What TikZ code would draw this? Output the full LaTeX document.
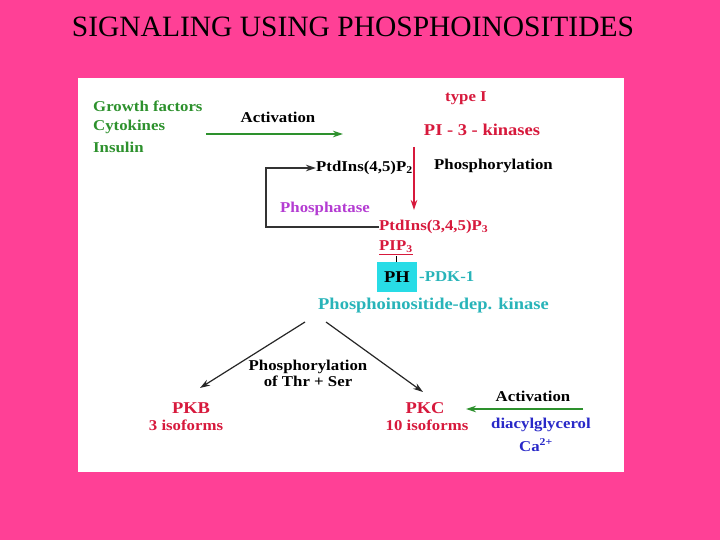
\documentclass[tikz,border=0pt]{standalone}
\usepackage{fontspec}
\setmainfont{Liberation Serif}[FakeStretch=1.12]
\newfontfamily\titlefont{Liberation Serif}
\usetikzlibrary{arrows.meta}
\definecolor{bgpink}{RGB}{255,64,150}
\definecolor{gr}{RGB}{45,145,45}
\definecolor{rd}{RGB}{215,25,60}
\definecolor{pu}{RGB}{180,60,210}
\definecolor{tl}{RGB}{40,180,185}
\definecolor{cy}{RGB}{40,220,230}
\definecolor{bl}{RGB}{40,40,200}
\tikzset{
 t/.style={font=\bfseries\fontsize{15}{16}\selectfont, inner sep=0pt},
 tb/.style={font=\bfseries\fontsize{16.5}{17}\selectfont, inner sep=0pt},
 tl/.style={t, anchor=west},
 arr/.style={-{Stealth[length=10pt,width=6.5pt]}, line width=1.2pt}
}
\begin{document}
\begin{tikzpicture}[x=1pt,y=-1pt]
\useasboundingbox (0,0) rectangle (720,540);
\fill[bgpink] (0,0) rectangle (720,540);
\fill[white] (78,78) rectangle (624,472);
\node[inner sep=0pt, font=\titlefont\fontsize{29.5}{30}\selectfont] (title) at (353,27) {SIGNALING USING PHOSPHOINOSITIDES};
\node[tl, gr] (g1) at (93,106) {Growth factors};
\node[tl, gr] (g2) at (93,127) {Cytokines};
\node[tl, gr] (g3) at (93,147) {Insulin};
\node[t] (act1) at (278,117) {Activation};
\coordinate (a1s) at (206,134); \coordinate (a1e) at (343,134);
\draw[arr, gr] (a1s) -- (a1e);
\node[t, rd] (type) at (466,98) {type I};
\node[tb, rd] (pi3k) at (482,130) {PI - 3 - kinases};
\node[tl] (p45) at (316,168) {PtdIns(4,5)P\textsubscript{2}};
\node[tl] (phos) at (434,166) {Phosphorylation};
\node[tl, pu] (phtase) at (280,209) {Phosphatase};
\node[tl, rd] (p345) at (379,227) {PtdIns(3,4,5)P\textsubscript{3}};
\node[tl, rd] (pip3) at (379,248) {\underline{PIP\textsubscript{3}}};
\coordinate (rs) at (414,147); \coordinate (re) at (414,210);
\draw[arr, rd] (rs) -- (re);
\draw[arr, black!80] (p345.west) -- (266,227) |- (p45.west);
\node[fill=cy, minimum width=40pt, minimum height=30pt, inner sep=0pt, tb] (ph) at (397,277) {PH};
\draw (396,256) -- (ph.north -| 396,0);
\node[tl, text=tl] (pdk) at (419,277) {-PDK-1};
\node[tb, anchor=west, text=tl] (pdk2) at (318,306) {Phosphoinositide-dep. kinase};
\node[tb, rd] (pkb) at (191,408) {PKB};
\node[t, rd] (pkb2) at (186,425) {3 isoforms};
\node[tb, rd] (pkc) at (425,408) {PKC};
\node[t, rd] (pkc2) at (427,425) {10 isoforms};
\coordinate (k1) at (305,322); \coordinate (k2) at (326,322);
\coordinate (kb) at (200,388); \coordinate (kc) at (423,392);
\draw[arr, black!85] (k1) -- (kb);
\draw[arr, black!85] (k2) -- (kc);
\node[t, align=center] (thr) at (308,373) {Phosphorylation\\of Thr + Ser};
\node[t] (act2) at (533,396) {Activation};
\coordinate (a2s) at (583,409); \coordinate (a2e) at (466,409);
\draw[arr, gr] (a2s) -- (a2e);
\node[t, bl] (dag) at (541,425) {diacylglycerol};
\node[t, bl] (ca) at (536,445) {Ca\textsuperscript{2+}};
\end{tikzpicture}
\end{document}
